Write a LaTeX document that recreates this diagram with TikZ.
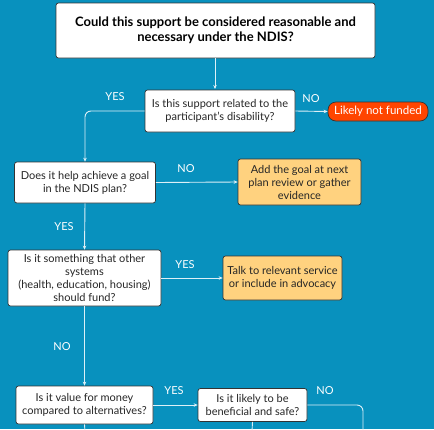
\documentclass[tikz,border=0pt]{standalone}
\usepackage{fontspec}
\setmainfont{Lato}
\usetikzlibrary{arrows.meta}
\definecolor{bg}{HTML}{0891BE}
\definecolor{ln}{HTML}{DDF0F7}
\definecolor{orng}{HTML}{FFD27F}
\definecolor{rd}{HTML}{FF4500}
\definecolor{bd}{HTML}{333333}
\tikzset{
  box/.style={draw=bd, line width=0.7pt, fill=white, rounded corners=2.5pt, align=center, inner sep=1pt, font=\fontsize{11}{13}\selectfont, text=black!85},
  actbox/.style={box, fill=orng},
  pill/.style={draw=bd, line width=0.7pt, fill=rd, rounded corners=8pt, align=center, inner sep=1pt, font=\fontsize{11.5}{12}\selectfont, text=white},
  conn/.style={draw=ln, line width=0.9pt, rounded corners=6pt},
  arr/.style={conn, -{Stealth[length=4pt,width=3.5pt]}},
  lbl/.style={text=white, font=\fontsize{11}{12}\selectfont, inner sep=0pt}
}
\begin{document}
\begin{tikzpicture}[x=1pt,y=-1pt]
\fill[bg] (0,0) rectangle (434,429);
\useasboundingbox (0,0) rectangle (434,429);

\node[box, minimum width=319pt, minimum height=55pt, font=\bfseries\fontsize{13}{15}\selectfont, text=black] (top) at (215.5,30.5) {Could this support be considered reasonable and\\necessary under the NDIS?};
\node[box, minimum width=150pt, minimum height=42pt] (q1) at (220,111) {Is this support related to the\\participant's disability?};
\node[pill, minimum width=100pt, minimum height=19pt] (nf) at (378,111.5) {Likely not funded};
\node[box, minimum width=141pt, minimum height=41pt] (q2) at (85,182.5) {Does it help achieve a goal\\in the NDIS plan?};
\node[actbox, minimum width=123pt, minimum height=46pt] (a1) at (299.5,182) {Add the goal at next\\plan review or gather\\evidence};
\node[box, minimum width=153pt, minimum height=56pt] (q3) at (84.5,278) {Is it something that other\\systems\\(health, education, housing)\\should fund?};
\node[actbox, minimum width=119pt, minimum height=44pt] (a2) at (282.5,278) {Talk to relevant service\\or include in advocacy};
\node[box, minimum width=137pt, minimum height=38pt] (q4) at (84.5,405) {Is it value for money\\compared to alternatives?};
\node[box, minimum width=109pt, minimum height=33pt] (q5) at (252.5,405) {Is it likely to be\\beneficial and safe?};

\coordinate (b4) at (85,432);
\coordinate (b5) at (252,432);
\coordinate (b6) at (363,432);

\draw[arr] (top.south -| 215,0) -- (215,89);
\draw[arr] (q1.west) -- (85,111) -- (q2.north);
\draw[arr] (q1.east) -- (nf.west);
\draw[arr] (q2.east) -- (a1.west);
\draw[arr] (q2.south) -- (q3.north);
\draw[arr] (q3.east) -- (a2.west);
\draw[arr] (q3.south) -- (q4.north);
\draw[arr] (q4.east) -- (q5.west);
\draw[conn] (q4.south) -- (b4);
\draw[conn] (q5.south) -- (b5);
\draw[conn] (q5.east) -- (363,405) -- (b6);

\node[lbl] (l1) at (115,97) {YES};
\node[lbl] (l2) at (311,99) {NO};
\node[lbl] (l3) at (186,169) {NO};
\node[lbl] (l4) at (64,227) {YES};
\node[lbl] (l5) at (185,265) {YES};
\node[lbl] (l6) at (62,347) {NO};
\node[lbl] (l7) at (174,391) {YES};
\node[lbl] (l8) at (325,391) {NO};
\end{tikzpicture}
\end{document}
